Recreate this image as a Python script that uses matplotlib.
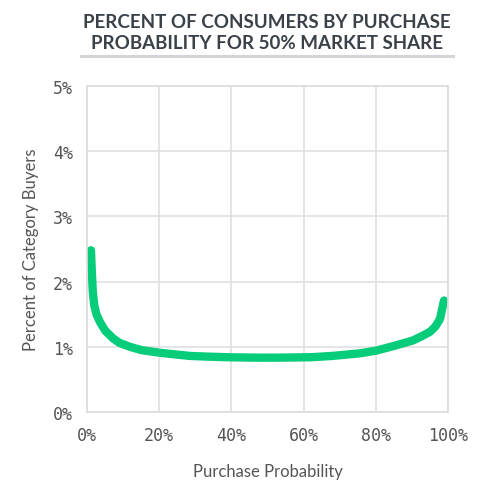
import matplotlib.pyplot as plt
from matplotlib.ticker import FuncFormatter

# purchase probability (%) and percent of category buyers (%)
prob = [1.1, 1.3, 1.6, 2.0, 2.6, 3.6, 5, 7.2, 9, 11.9, 15, 20, 25, 28.5, 33, 38.8,
        45, 50, 55, 62, 68, 75.6, 80, 84.8, 88, 90.4, 93, 95, 96.5, 97.8, 98.9]
buyers = [2.48, 2.2, 1.85, 1.64, 1.50, 1.38, 1.25, 1.13, 1.06, 1.00, 0.95, 0.91, 0.88,
          0.86, 0.85, 0.84, 0.835, 0.833, 0.835, 0.84, 0.86, 0.90, 0.94, 1.01,
          1.06, 1.10, 1.17, 1.23, 1.31, 1.43, 1.71]

xticks = [0, 20, 40, 60, 80, 100]
yticks = [0, 1, 2, 3, 4, 5]

fig = plt.figure(figsize=(4.79, 4.81), dpi=100)
ax = fig.add_axes([87/479, 68/481, 361/479, 326/481])

ax.plot(prob, buyers, color='#07cc7a', lw=6, solid_capstyle='round',
        solid_joinstyle='round')

ax.set_xlim(0, 100)
ax.set_ylim(0, 5)
ax.set_xticks(xticks)
ax.set_yticks(yticks)
pct = FuncFormatter(lambda v, p: f"{v:.0f}%")
ax.xaxis.set_major_formatter(pct)
ax.yaxis.set_major_formatter(pct)
ax.grid(True, color='#e0e0e0', lw=1.2)
ax.set_axisbelow(True)
for s in ax.spines.values():
    s.set_color('#dcdcdc')
    s.set_linewidth(1.2)
ax.tick_params(length=0, pad=10, labelcolor='#555555')
for lab in ax.get_xticklabels() + ax.get_yticklabels():
    lab.set_family('DejaVu Sans Mono')
    lab.set_fontsize(12)

ax.set_xlabel("Purchase Probability", family='Lato', fontsize=12,
              color='#555555', labelpad=14)
ax.set_ylabel("Percent of Category Buyers", family='Lato', fontsize=12,
              color='#555555', labelpad=10)

fig.text(267/479, 1 - 33/481, "PERCENT OF CONSUMERS BY PURCHASE\nPROBABILITY FOR 50% MARKET SHARE",
         ha='center', va='center', family='Lato', weight='bold', fontsize=13.5,
         color='#3a4149', linespacing=1.25)
fig.add_artist(plt.Line2D([81/479, 453/479], [1 - 57/481, 1 - 57/481],
                          color='#d2d6d8', lw=2.2, transform=fig.transFigure))

fig.savefig('out.png', dpi=100)
